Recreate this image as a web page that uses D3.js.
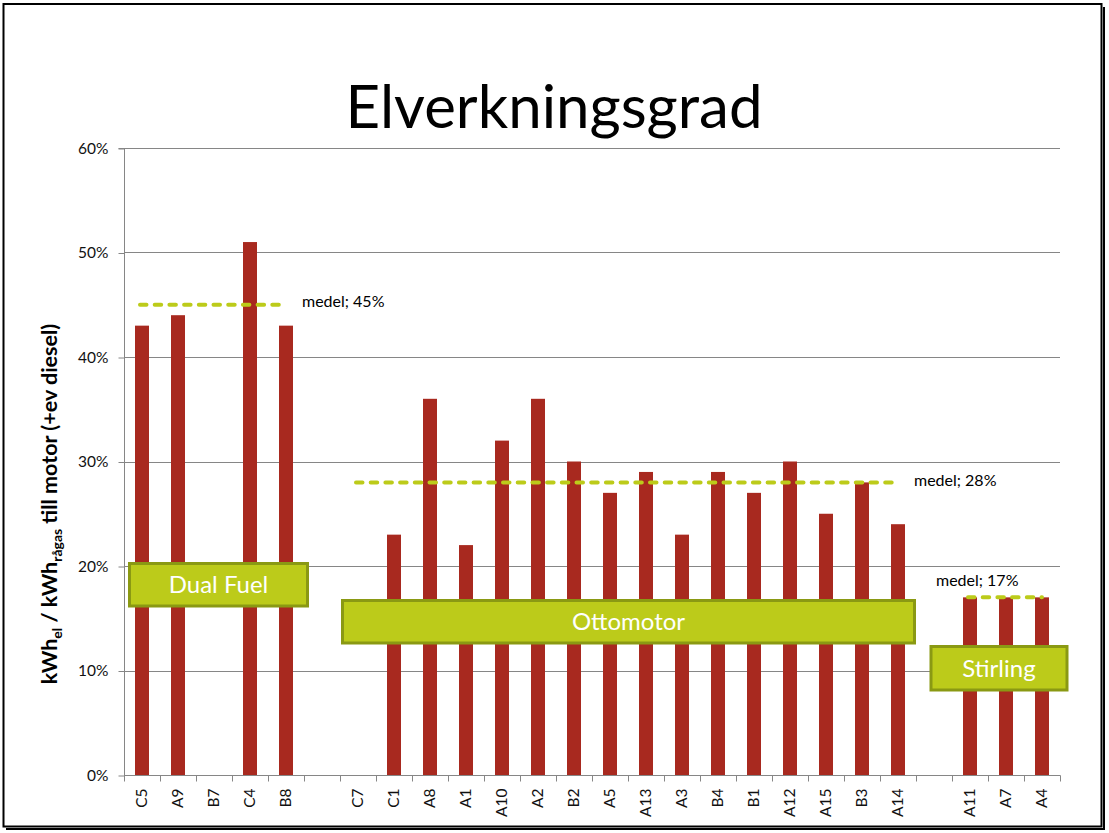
<!DOCTYPE html>
<html>
<head>
<meta charset="utf-8">
<script src="https://cdn.jsdelivr.net/npm/d3@7/dist/d3.min.js"></script>
<style>
  html, body { margin: 0; padding: 0; background: #fff; }
  svg { display: block; font-family: Lato, "Open Sans", "DejaVu Sans", sans-serif; }
</style>
</head>
<body>
<svg id="chart" width="1109" height="833"></svg>
<script>
// ---------------- DATA ----------------
const categories = ["C5","A9","B7","C4","B8","_gap1",
  "C7","C1","A8","A1","A10","A2","B2","A5","A13","A3","B4","B1","A12","A15","B3","A14","_gap2",
  "A11","A7","A4"];
const values = [43,44,0,51,43,null,
  0,23,36,22,32,36,30,27,29,23,29,27,30,25,28,24,null,
  17,17,17];
const yTicks = [0,10,20,30,40,50,60];
const groupNames = ["Dual Fuel","Ottomotor","Stirling"];
const groupMeans = [45,28,17];
const groupFirst = ["C5","C7","A11"];
const groupLast  = ["B8","A14","A4"];
const titleText = "Elverkningsgrad";

// ---------------- LAYOUT ----------------
const svg = d3.select("#chart");
const plot = {left:124, right:1060, top:148, bottom:775};

const x = d3.scaleBand().domain(categories).range([plot.left, plot.right]).paddingInner(0).paddingOuter(0);
const y = d3.scaleLinear().domain([0,60]).range([plot.bottom, plot.top]);
const barW = 14;

const gridColor = "#868686";
const barColor = "#a8291f";
const lime = "#bccb1a";
const limeDark = "#8a9913";
const tickFont = 15.5;

// frame with shadow
svg.append("rect").attr("x",3.5).attr("y",4).attr("width",1098).attr("height",822.5)
  .attr("fill","none").attr("stroke","#000").attr("stroke-width",2);
svg.append("line").attr("x1",1104).attr("x2",1104).attr("y1",7).attr("y2",830)
  .attr("stroke","#000").attr("stroke-width",2);
svg.append("line").attr("x1",6).attr("x2",1105).attr("y1",829).attr("y2",829)
  .attr("stroke","#000").attr("stroke-width",2);

// title
svg.append("text").attr("x",554).attr("y",128).attr("text-anchor","middle")
  .attr("font-size",60).attr("fill","#000").text(titleText);

// gridlines
svg.append("g").selectAll("line").data(yTicks.filter(d=>d>0)).join("line")
  .attr("x1",plot.left).attr("x2",plot.right)
  .attr("y1",d=>Math.round(y(d))+0.5).attr("y2",d=>Math.round(y(d))+0.5)
  .attr("stroke",gridColor).attr("stroke-width",1);

// y axis
const yAxis = d3.axisLeft(y).tickValues(yTicks).tickFormat(d=>d+"%").tickSize(6).tickPadding(10);
const gy = svg.append("g").attr("transform",`translate(${plot.left+0.5},0.5)`).call(yAxis);
gy.select(".domain").attr("stroke",gridColor).attr("d",`M-6,${y(60)}H0V${y(0)}`);
gy.selectAll(".tick line").attr("stroke",gridColor);
gy.selectAll(".tick text").attr("font-size",tickFont).attr("fill","#111").attr("font-family","Lato, 'Open Sans', sans-serif");

// bars
svg.append("g").selectAll("rect").data(categories.map((c,i)=>({c, v:values[i]})).filter(d=>d.v!==null))
  .join("rect")
  .attr("x",d=>x(d.c)+x.bandwidth()/2-barW/2)
  .attr("width",barW)
  .attr("y",d=>y(d.v))
  .attr("height",d=>y(0)-y(d.v))
  .attr("fill",barColor);

// x axis
const gx = svg.append("g").attr("transform",`translate(0,${plot.bottom+0.5})`);
gx.append("line").attr("x1",plot.left).attr("x2",plot.right+0.5).attr("stroke",gridColor);
const boundaries = d3.range(categories.length+1).map(i=>plot.left + i*x.step());
gx.selectAll("line.tk").data(boundaries).join("line").attr("class","tk")
  .attr("x1",d=>Math.round(d)+0.5).attr("x2",d=>Math.round(d)+0.5).attr("y1",0).attr("y2",6)
  .attr("stroke",gridColor);
gx.selectAll("text").data(categories).join("text")
  .attr("transform",d=>`translate(${x(d)+x.bandwidth()/2},13) rotate(-90)`)
  .attr("text-anchor","end").attr("dy","0.35em")
  .attr("font-size",tickFont).attr("fill","#111")
  .text(d=>d.startsWith("_gap")?"":d);

// mean lines
const meanG = svg.append("g");
groupNames.forEach((g,i)=>{
  const x1 = x(groupFirst[i])+x.bandwidth()/2 - 2;
  const x2 = x(groupLast[i])+x.bandwidth()/2 ;
  meanG.append("line").attr("x1",x1).attr("x2",x2)
    .attr("y1",y(groupMeans[i])).attr("y2",y(groupMeans[i]))
    .attr("stroke",lime).attr("stroke-width",4).attr("stroke-linecap","round")
    .attr("stroke-dasharray","6.5,8.2");
});
// mean labels
const labelPos = [
  {dx: 16, dy: 2},
  {dx: 16, dy: 4},
  {dx: -34, dy: -11}
];
groupNames.forEach((g,i)=>{
  const x2 = x(groupLast[i])+x.bandwidth()/2;
  const lx = i===2 ? x(groupFirst[i])+x.bandwidth()/2 + labelPos[i].dx : x2 + labelPos[i].dx;
  svg.append("text").attr("x",lx).attr("y",y(groupMeans[i])+labelPos[i].dy)
    .attr("font-size",16).attr("fill","#000")
    .text(`medel; ${groupMeans[i]}%`);
});

// group boxes
const boxes = [
  {x:129.5, y:563.5, w:178, h:42.5},
  {x:342.5, y:600.5, w:572, h:42.5},
  {x:931, y:646.5, w:136, h:43.5}
];
groupNames.forEach((g,i)=>{
  const b = boxes[i];
  svg.append("rect").attr("x",b.x).attr("y",b.y).attr("width",b.w).attr("height",b.h)
    .attr("fill",lime).attr("stroke",limeDark).attr("stroke-width",3);
  svg.append("text").attr("x",b.x+b.w/2).attr("y",b.y+b.h/2).attr("dy","0.36em")
    .attr("text-anchor","middle").attr("font-size",24).attr("fill","#fff").text(g);
});

// y label
const yl = svg.append("text")
  .attr("transform","translate(57,504) rotate(-90)")
  .attr("text-anchor","middle").attr("font-size",21.5).attr("font-weight","bold").attr("fill","#000");
yl.append("tspan").text("kWh");
yl.append("tspan").attr("font-size",14).attr("dy",5).text("el");
yl.append("tspan").attr("dy",-5).text(" / kWh");
yl.append("tspan").attr("font-size",14).attr("dy",5).text("rågas");
yl.append("tspan").attr("dy",-5).text(" till motor (+ev diesel)");
</script>
</body>
</html>
